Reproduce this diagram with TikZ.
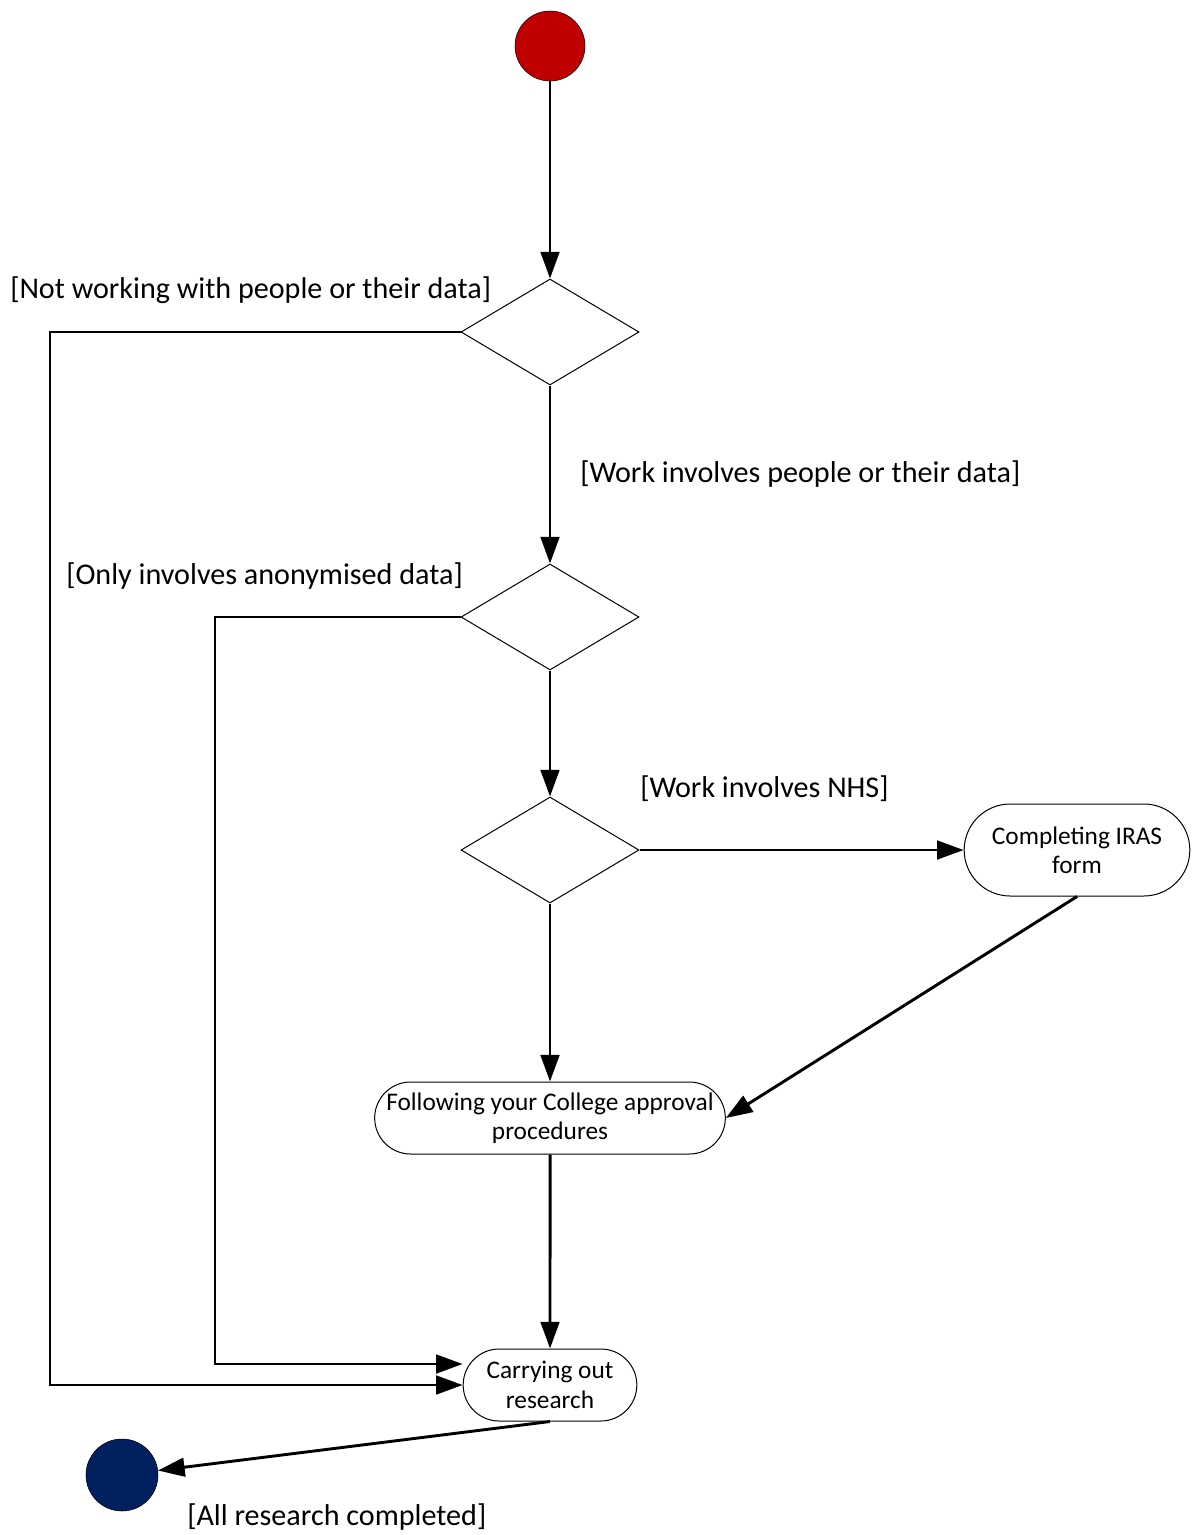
\documentclass[tikz,border=0pt]{standalone}
\usepackage{fontspec}
\setmainfont{Carlito}
\usetikzlibrary{shapes.geometric,shapes.misc,arrows.meta}
\definecolor{startred}{HTML}{C00000}
\definecolor{endblue}{HTML}{002060}
\tikzset{
    decision/.style={diamond, draw, line width=0.75pt, minimum width=133.5pt, minimum height=79.5pt, aspect=1.68, inner sep=0pt},
    activity/.style={rounded rectangle, draw, line width=0.75pt, minimum height=54pt, align=center, font=\fontsize{19}{22}\selectfont, inner sep=2pt},
    guard/.style={anchor=west, font=\fontsize{22.6}{26}\selectfont, inner sep=0pt},
    flow/.style={-{Triangle[length=20pt,width=14pt]}, line width=2.2pt},
}
\begin{document}
\begin{tikzpicture}[x=0.75pt,y=-0.75pt]
    \useasboundingbox (0,0) rectangle (1194,1535);
    % start and end
    \node[circle, draw, fill=startred, minimum size=52.5pt, inner sep=0pt] (start) at (550,46) {};
    \node[circle, draw, fill=endblue, minimum size=54pt, inner sep=0pt] (finish) at (122,1475) {};
    % decisions
    \node[decision] (dpeople) at (550,332) {};
    \node[decision] (danon) at (550,617) {};
    \node[decision] (dnhs) at (550,850) {};
    % activities
    \node[activity, minimum width=173.25pt, minimum height=69pt] (iras) at (1077,850) {Completing IRAS\\form};
    \node[activity, minimum width=267pt] (college) at (550,1118) {Following your College approval\\procedures};
    \node[activity, minimum width=134.25pt] (research) at (550,1385) {Carrying out\\research};
    % guards
    \node[guard] (gnopeople) at (10,290) {[Not working with people or their data]};
    \node[guard] (gpeople) at (580,474) {[Work involves people or their data]};
    \node[guard] (ganon) at (66,576) {[Only involves anonymised data]};
    \node[guard] (gnhs) at (640,789) {[Work involves NHS]};
    \node[guard] (gdone) at (187,1517) {[All research completed]};
    % rails on the left
    \coordinate (outerrail) at (50,332);
    \coordinate (innerrail) at (215,617);
    % flows
    \draw[flow] (start) -- (dpeople);
    \draw[flow] (dpeople) -- (danon);
    \draw[flow] (danon) -- (dnhs);
    \draw[flow] (dnhs) -- (college);
    \draw[flow] (dnhs.east) -- (iras.west);
    \draw[flow] (iras.south) -- (college.east);
    \draw[flow] (college) -- (research);
    \draw[flow] (dpeople.west) -- (outerrail) |- (research.west);
    \draw[flow] (danon.west) -- (innerrail) |- ([yshift=15.75pt]research.west);
    \draw[flow] (research.south) -- (finish);
\end{tikzpicture}
\end{document}
